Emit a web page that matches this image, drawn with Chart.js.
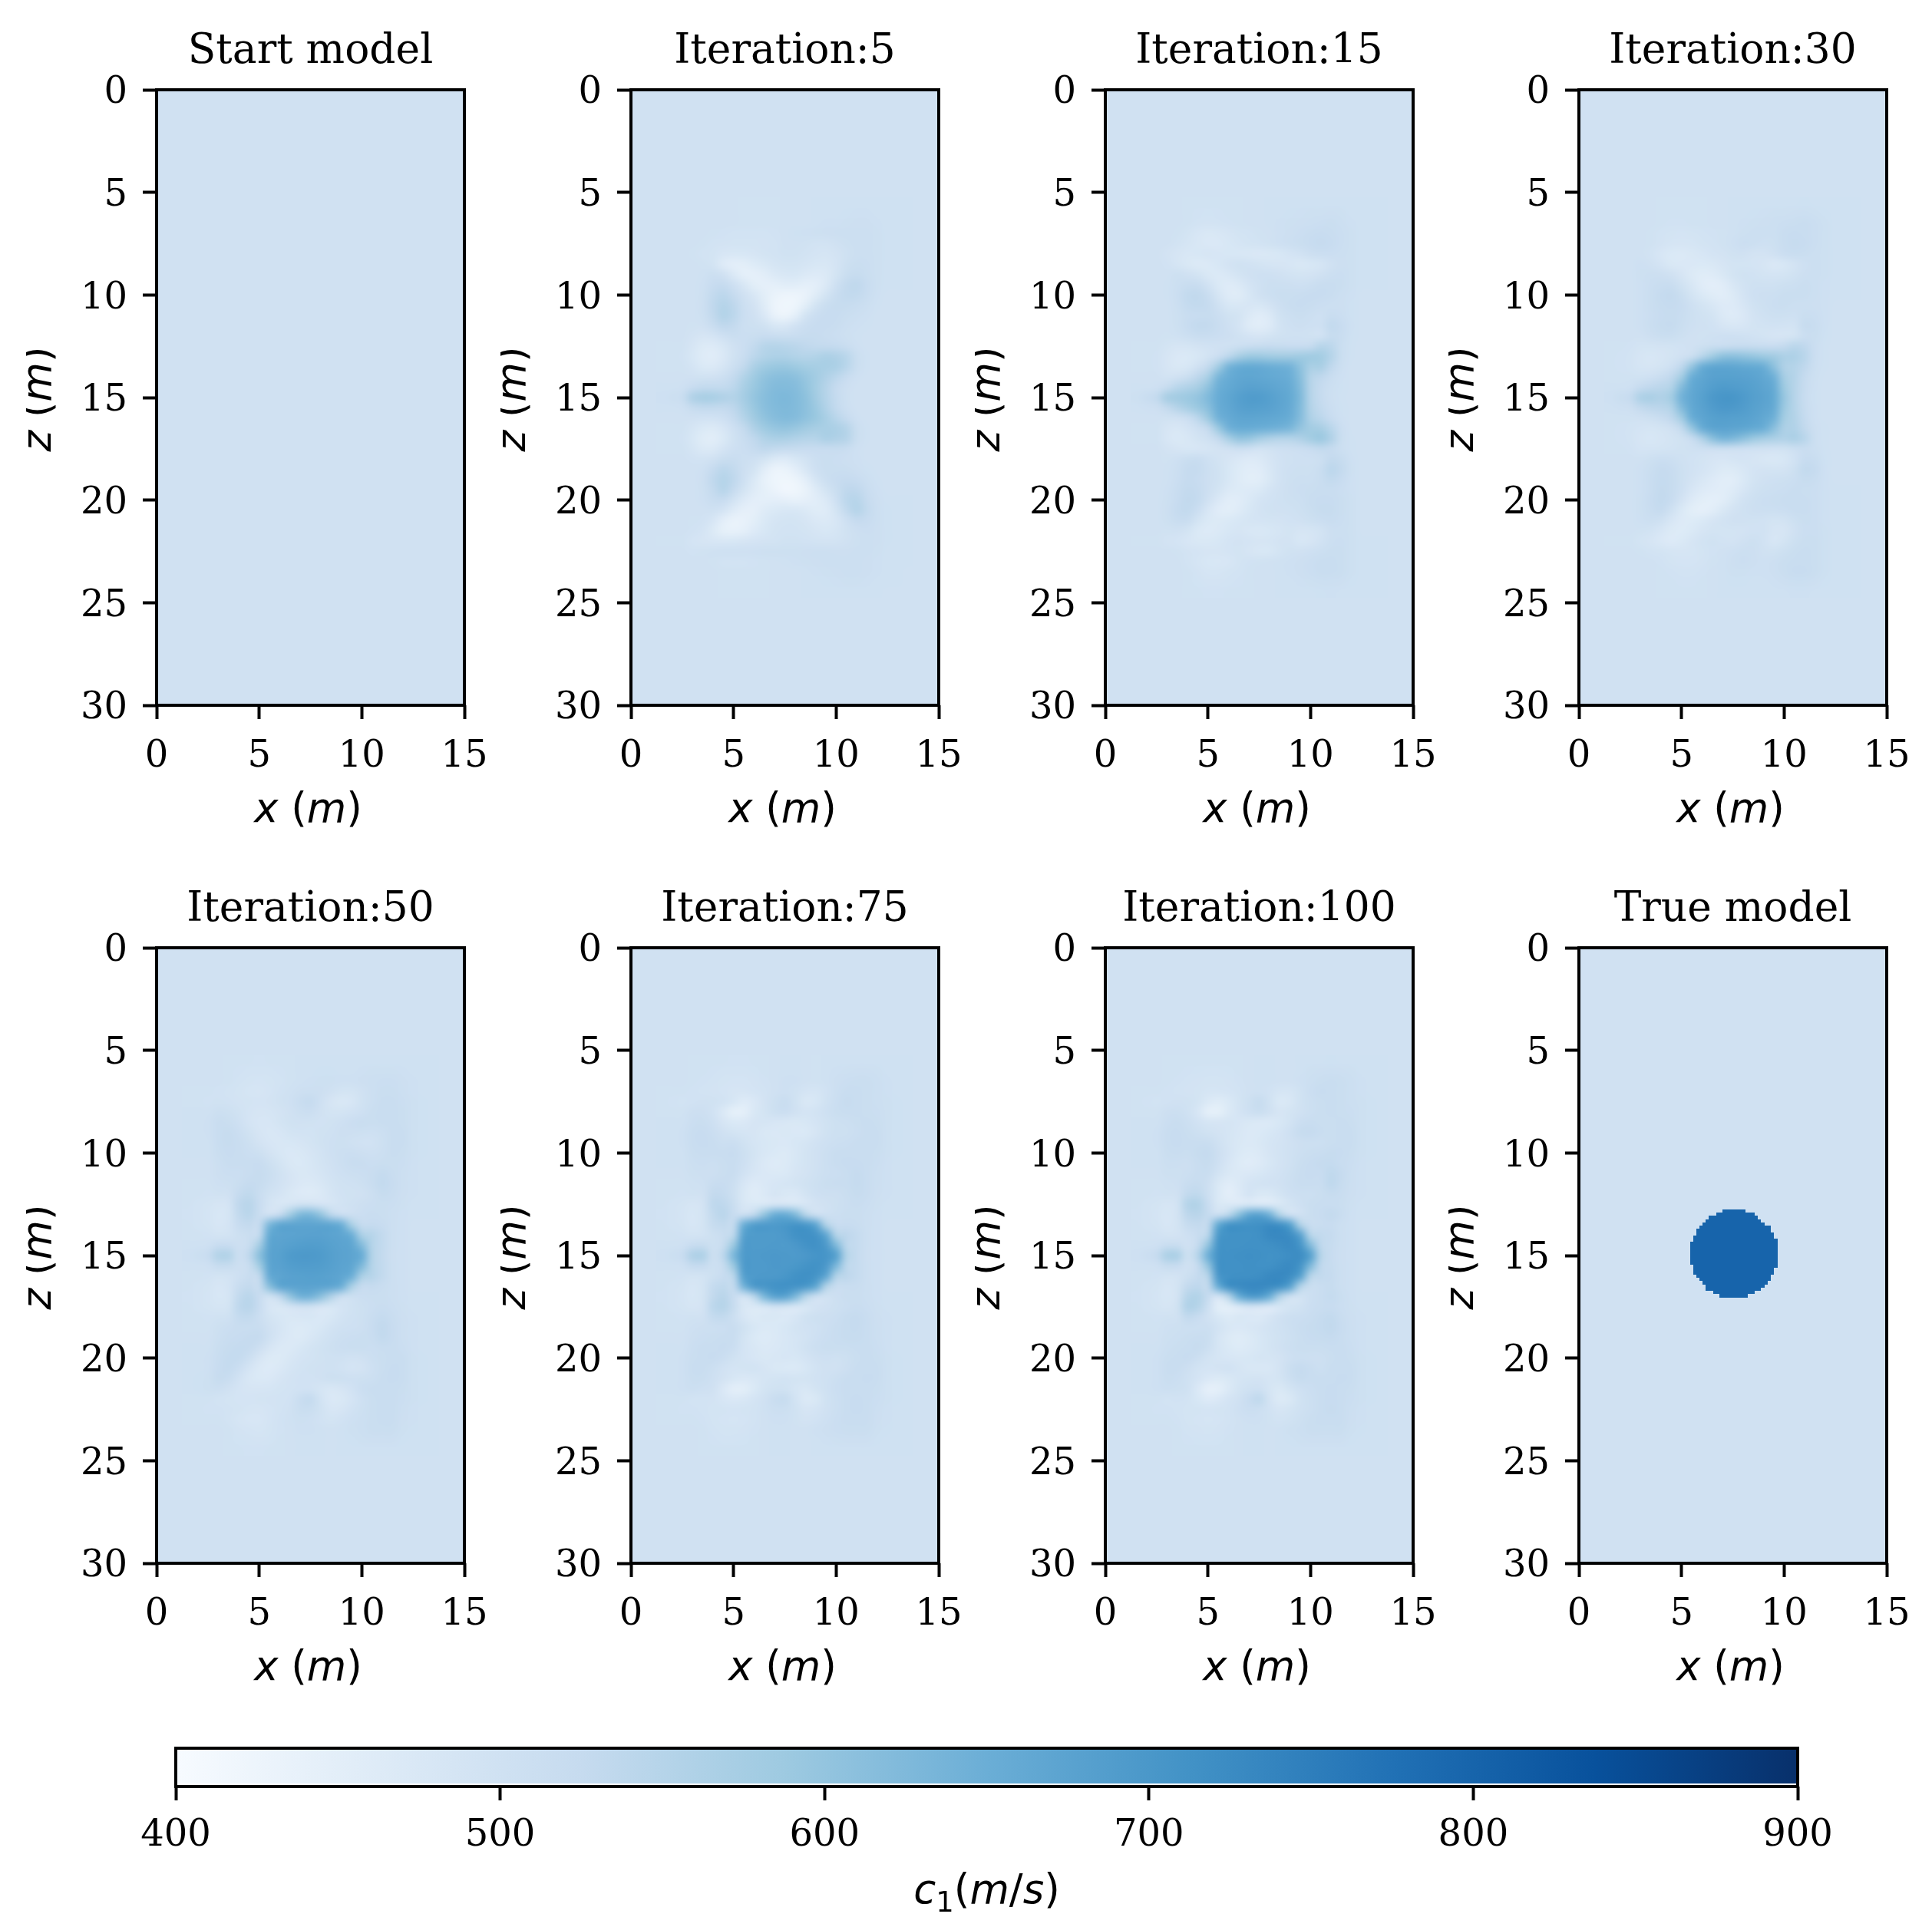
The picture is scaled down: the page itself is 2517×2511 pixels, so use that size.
<!DOCTYPE html>
<html>
<head>
<meta charset="utf-8">
<title>Inversion iterations</title>
<script src="https://cdn.jsdelivr.net/npm/chart.js@4"></script>
<style>
  html, body { margin: 0; padding: 0; background: #fff; overflow: hidden; }
  canvas { position: absolute; }
</style>
</head>
<body>
<script>
const panelTitles = ['Start model', 'Iteration:5', 'Iteration:15', 'Iteration:30', 'Iteration:50', 'Iteration:75', 'Iteration:100', 'True model'];
const xTicks = [0, 5, 10, 15];
const zTicks = [0, 5, 10, 15, 20, 25, 30];
const colorbarTicks = [400, 500, 600, 700, 800, 900];
const colorbarLimits = [400, 900];
const backgroundValue = 500;
const inclusionValue = 800;

// Blues colormap, evenly spaced over the colorbar range
const bluesStops = ['#f7fbff', '#deebf7', '#c6dbef', '#9ecae1', '#6baed6', '#4292c6', '#2171b5', '#08519c', '#08306b'];

// cell centres (m) of the read-off window, everything outside it sits at backgroundValue
const gridXs = [2.5, 3, 3.5, 4, 4.5, 5, 5.5, 6, 6.5, 7, 7.5, 8, 8.5, 9, 9.5, 10, 10.5, 11, 11.5, 12, 12.5];
const gridZs = [6.5, 7, 7.5, 8, 8.5, 9, 9.5, 10, 10.5, 11, 11.5, 12, 12.5, 13, 13.5, 14, 14.5, 15, 15.5, 16, 16.5, 17, 17.5, 18, 18.5, 19, 19.5, 20, 20.5, 21, 21.5, 22, 22.5, 23, 23.5];

const iter5Rows = [
  [500,500,500,500,500,500,498,498,498,498,500,500,500,502,504,505,506,508,508,505,502],
  [500,500,500,498,496,495,495,495,495,497,500,503,505,506,508,510,510,510,510,506,502],
  [500,500,498,494,492,490,490,490,492,495,500,500,498,495,495,500,506,510,510,506,502],
  [500,498,494,490,482,478,480,484,490,494,498,498,494,488,486,492,502,510,510,506,502],
  [500,500,498,490,462,450,452,464,476,486,490,490,486,480,478,488,506,514,512,506,502],
  [500,500,502,510,500,470,448,446,456,470,478,480,470,466,470,490,514,522,514,506,502],
  [500,500,504,520,524,505,478,452,446,448,456,456,448,450,470,505,528,535,520,506,502],
  [500,500,506,530,540,525,500,478,452,436,428,428,436,460,490,518,530,530,518,504,500],
  [500,500,508,535,552,538,510,492,460,428,420,424,452,490,515,522,522,518,510,502,500],
  [500,500,506,532,555,540,512,500,474,438,428,448,490,512,520,520,515,510,505,500,500],
  [500,498,500,518,535,528,510,506,498,480,478,496,512,520,520,516,510,505,502,500,500],
  [500,492,484,488,505,515,512,515,520,518,515,518,522,522,518,512,506,502,500,500,500],
  [498,484,468,465,480,500,512,530,548,552,548,542,535,530,528,526,516,504,500,500,500],
  [496,480,462,458,474,498,518,540,556,562,562,556,552,556,565,560,545,515,502,500,500],
  [498,488,472,470,486,510,532,565,584,592,594,588,578,574,570,565,545,515,502,500,500],
  [500,500,498,500,510,528,556,585,604,612,614,610,596,580,560,540,520,504,500,500,500],
  [505,520,530,530,530,540,568,592,610,620,622,618,602,578,550,525,508,500,500,500,500],
  [518,560,572,570,560,555,575,598,615,624,628,622,608,582,552,526,506,500,500,500,500],
  [505,522,530,530,528,538,566,592,612,622,626,622,610,590,558,530,510,500,500,500,500],
  [500,500,496,496,505,525,552,582,604,616,622,618,606,592,570,545,525,504,500,500,500],
  [498,486,472,468,482,505,528,560,584,596,600,594,582,572,570,565,550,515,502,500,500],
  [496,480,460,456,472,498,516,535,556,566,566,558,552,552,565,560,550,515,502,500,500],
  [498,486,470,470,488,505,512,525,535,530,525,522,520,520,520,522,516,504,500,500,500],
  [500,496,494,500,515,518,510,505,490,470,465,480,495,510,515,512,508,504,500,500,500],
  [500,500,504,525,540,530,508,490,455,430,432,450,478,505,515,515,514,508,503,500,500],
  [500,500,508,535,552,536,505,472,440,424,420,428,450,485,510,520,525,520,510,502,500],
  [500,500,506,528,548,525,490,462,444,430,418,420,436,462,490,515,535,535,518,505,500],
  [500,500,504,516,520,495,465,450,448,450,445,440,445,456,470,505,540,548,525,508,502],
  [500,500,500,502,488,462,445,446,462,472,478,478,470,460,462,490,530,552,530,510,503],
  [500,498,496,482,450,436,438,452,472,486,490,490,484,474,470,482,505,525,520,510,503],
  [500,496,488,468,444,440,448,465,480,490,495,495,490,484,480,486,498,508,512,508,503],
  [498,488,484,482,478,480,484,488,492,495,498,498,496,494,492,494,500,506,510,508,503],
  [500,496,498,502,504,504,504,504,506,506,506,506,508,510,510,508,508,510,510,506,502],
  [500,500,500,498,494,494,494,496,498,500,502,504,506,508,510,510,510,510,508,505,502],
  [500,500,500,500,498,498,498,498,498,500,500,500,502,504,506,508,510,510,508,504,501]
];

const iter15Rows = [
  [500,500,500,498,494,492,494,496,498,500,500,502,504,506,508,510,512,514,510,505,502],
  [500,500,498,490,482,476,478,484,490,494,498,500,504,508,512,516,520,518,512,506,502],
  [500,500,494,486,478,474,474,480,486,490,494,498,504,510,514,520,524,520,512,506,502],
  [500,492,484,478,480,484,482,480,478,476,474,476,480,488,496,508,512,512,510,506,502],
  [500,496,486,476,468,470,480,492,498,496,490,486,484,482,476,480,486,500,508,506,502],
  [500,500,506,500,490,476,470,478,490,500,504,504,500,494,490,492,500,510,512,506,502],
  [500,502,510,518,518,496,472,462,470,488,502,510,510,508,505,510,516,518,514,506,502],
  [500,502,512,530,532,516,486,462,460,480,500,510,514,514,516,520,520,516,510,505,500],
  [500,500,510,526,530,525,502,480,478,482,480,492,508,516,520,518,512,510,508,503,500],
  [500,500,506,518,520,522,512,498,490,470,458,470,498,510,514,510,504,516,512,503,500],
  [500,500,506,520,530,528,516,505,488,462,454,466,494,505,508,504,504,530,520,504,500],
  [500,498,502,510,516,516,512,508,498,488,484,490,498,502,502,498,496,522,518,503,500],
  [498,490,484,486,492,496,500,502,510,518,522,524,522,520,520,525,548,540,515,502,500],
  [496,484,474,472,480,494,512,540,572,590,590,585,582,582,585,585,578,552,515,502,500],
  [496,484,476,480,500,528,580,636,655,660,658,652,648,640,606,568,568,535,510,500,500],
  [500,494,500,515,538,570,632,655,666,668,666,662,658,650,615,552,535,518,505,500,500],
  [505,522,545,558,572,605,648,662,672,678,676,672,666,656,620,550,525,510,503,500,500],
  [530,572,582,590,600,624,654,668,682,690,690,682,672,660,625,552,525,508,502,500,500],
  [508,528,550,570,590,612,652,665,678,684,682,678,670,658,622,555,530,512,503,500,500],
  [500,498,500,512,540,586,640,658,668,670,668,666,662,652,618,562,540,520,505,500,500],
  [498,484,478,488,505,528,590,640,654,654,650,646,640,630,600,580,572,545,512,500,500],
  [498,482,472,478,490,502,528,570,600,596,575,560,552,552,560,578,590,560,515,502,500],
  [500,492,484,480,482,486,492,500,510,505,495,498,504,508,512,520,530,525,510,502,500],
  [500,498,504,514,516,504,494,484,474,466,470,484,496,502,505,505,510,528,522,504,500],
  [500,502,510,524,524,510,498,480,464,454,458,478,496,504,506,506,516,540,528,506,500],
  [500,502,512,524,520,508,498,480,462,452,456,476,496,506,510,510,516,530,520,505,500],
  [500,504,516,528,524,508,490,470,464,466,472,488,500,508,512,514,518,518,512,505,500],
  [500,506,520,532,526,500,474,456,458,472,488,496,502,506,510,516,520,520,514,506,500],
  [500,508,524,530,512,482,458,452,462,480,492,498,500,502,506,514,522,522,514,506,500],
  [500,506,518,516,490,472,468,472,480,486,488,490,492,496,500,506,512,516,512,506,500],
  [500,498,500,490,472,466,470,480,484,478,476,480,486,490,484,486,494,508,510,506,500],
  [498,492,488,482,476,476,480,488,492,488,484,486,492,492,480,484,496,510,512,506,502],
  [500,500,498,492,488,484,484,488,490,484,478,480,490,498,500,504,510,514,514,506,502],
  [500,500,500,494,486,480,478,482,490,496,498,500,502,504,508,512,516,518,514,506,502],
  [500,500,500,498,492,486,486,490,494,498,500,500,502,504,508,512,516,518,514,506,502]
];

const iter30Rows = [
  [500,500,500,498,496,496,498,498,500,500,502,504,506,508,510,512,514,516,512,506,502],
  [500,500,498,494,490,488,490,494,496,498,502,506,510,510,510,516,520,518,512,506,502],
  [500,500,498,492,486,484,486,490,494,498,505,512,510,504,506,516,522,520,512,506,502],
  [500,500,494,482,472,470,476,482,488,492,498,500,492,492,500,512,516,514,510,506,502],
  [500,505,500,488,476,474,474,472,476,484,490,490,488,484,474,480,492,505,510,506,502],
  [500,506,510,508,500,484,468,460,462,476,490,498,496,490,488,490,498,508,510,506,502],
  [500,505,512,518,518,498,478,458,450,458,478,494,502,502,502,506,510,514,510,505,502],
  [500,505,514,524,528,514,490,472,460,456,468,488,504,508,510,514,514,514,510,505,502],
  [500,504,514,522,524,520,504,490,478,466,466,482,498,506,512,514,510,510,508,504,500],
  [500,504,512,520,522,516,506,498,490,470,462,474,492,502,506,506,504,514,512,504,500],
  [500,504,514,522,524,514,504,500,496,484,478,482,490,494,496,494,494,522,518,504,500],
  [500,500,508,514,514,506,500,498,502,504,504,502,496,490,484,484,490,512,514,503,500],
  [496,490,490,492,494,496,500,506,514,518,522,524,522,520,520,528,544,535,512,502,500],
  [494,484,480,484,490,500,515,548,585,608,612,606,598,590,582,566,562,545,512,502,500],
  [494,486,484,490,504,536,600,652,668,670,668,664,660,652,610,560,552,535,510,502,500],
  [498,498,505,516,535,580,650,668,678,680,680,678,674,666,645,575,552,525,506,500,500],
  [505,525,535,542,556,620,662,674,686,692,690,686,680,672,656,588,550,522,505,500,500],
  [525,562,568,560,580,640,666,680,696,704,704,694,684,676,660,596,550,520,503,500,500],
  [508,528,538,542,556,620,662,676,690,698,696,690,680,672,656,590,552,522,504,500,500],
  [498,500,506,516,535,580,650,670,680,684,682,680,674,664,644,578,555,526,505,500,500],
  [494,488,486,490,500,530,596,652,672,674,672,668,660,650,612,564,558,532,508,502,500],
  [494,484,480,484,490,498,520,560,610,634,628,610,590,575,566,558,565,545,510,502,500],
  [496,488,488,490,494,498,502,504,508,510,508,504,502,500,496,498,510,518,510,502,500],
  [500,500,506,512,510,502,496,490,484,482,486,488,484,478,476,480,496,520,518,503,500],
  [500,504,514,524,520,506,496,488,478,468,468,478,488,492,490,492,506,530,524,505,500],
  [500,504,516,526,522,506,492,478,466,456,456,472,490,500,504,506,512,522,518,505,500],
  [500,505,518,528,522,504,482,466,458,454,462,482,498,506,510,512,516,514,512,505,502],
  [500,506,520,530,520,492,466,452,448,456,476,496,506,512,514,516,518,516,512,505,502],
  [500,506,518,524,502,472,452,446,456,476,492,502,508,510,510,512,516,516,512,505,502],
  [500,504,510,502,482,466,464,472,484,494,500,500,498,496,490,494,506,514,512,505,502],
  [500,498,494,482,468,464,472,484,490,490,490,492,496,496,484,484,500,512,512,506,502],
  [498,490,484,474,466,472,484,494,498,494,492,500,506,496,482,490,506,514,514,506,502],
  [500,498,494,490,486,484,486,490,496,500,504,510,508,500,498,506,514,516,514,506,502],
  [500,500,500,496,490,488,488,492,498,502,508,512,508,504,508,514,518,518,514,506,502],
  [500,500,500,498,496,494,494,496,500,502,506,506,504,504,508,514,520,520,514,506,502]
];

const iter50Rows = [
  [500,500,498,494,490,488,490,494,498,502,504,506,506,504,504,508,510,512,512,508,504],
  [498,496,494,490,486,484,488,496,502,508,510,508,500,490,490,500,510,514,514,510,505],
  [496,498,496,492,490,488,492,498,504,518,524,504,484,476,482,498,510,516,516,512,506],
  [502,510,506,498,488,484,486,492,500,510,512,500,490,490,496,505,514,518,518,514,506],
  [504,516,514,504,488,482,482,490,498,500,498,496,498,505,512,516,515,516,518,514,506],
  [504,518,522,512,498,484,478,482,490,494,494,498,502,508,508,506,504,510,518,516,506],
  [502,516,522,518,506,492,482,478,480,484,490,498,504,506,502,496,496,506,516,516,506],
  [502,514,520,518,512,506,492,480,474,476,484,494,504,510,512,508,504,510,516,514,506],
  [500,510,516,516,518,520,506,490,476,472,480,490,500,510,516,518,512,514,514,512,505],
  [500,508,512,512,518,522,514,498,484,476,478,486,496,504,510,512,516,526,518,510,504],
  [498,504,506,514,524,522,510,496,484,474,470,478,490,498,502,506,518,530,520,510,504],
  [496,498,500,524,534,516,498,488,476,466,462,470,486,496,498,500,510,522,518,508,504],
  [490,484,488,535,546,520,488,478,486,498,498,488,486,494,502,508,512,514,512,506,502],
  [488,480,486,530,544,516,500,525,580,625,630,600,540,512,508,512,516,515,510,504,502],
  [490,482,488,520,528,525,630,668,672,672,672,672,668,650,570,525,525,520,510,504,500],
  [496,490,494,506,515,530,660,672,674,676,678,678,674,670,650,565,548,530,510,504,500],
  [504,520,520,508,518,575,668,676,682,686,688,686,680,674,668,620,552,530,510,504,500],
  [520,555,556,510,535,610,672,680,692,696,696,692,684,676,672,655,555,528,508,504,500],
  [504,522,522,508,518,578,668,678,686,690,690,688,682,674,668,625,552,530,510,504,500],
  [496,490,494,505,516,532,658,672,678,680,682,680,676,670,650,568,548,530,510,504,500],
  [490,482,488,518,528,522,615,668,674,676,676,674,670,650,570,524,525,518,510,504,500],
  [488,480,486,530,544,520,498,535,600,640,640,610,560,515,506,512,514,514,510,504,502],
  [490,486,490,536,546,520,482,476,488,500,498,484,480,488,498,506,512,516,512,506,502],
  [496,498,502,526,530,512,490,480,476,478,480,474,480,494,502,506,516,526,518,508,504],
  [498,506,512,518,516,518,500,486,472,468,472,480,494,502,504,508,520,532,520,510,504],
  [500,510,518,520,524,524,502,482,470,468,478,490,502,510,512,514,518,530,520,510,504],
  [502,514,522,526,524,508,484,470,470,480,490,498,506,512,514,514,512,518,518,512,505],
  [504,518,526,526,510,484,468,468,478,488,494,498,502,502,496,500,510,514,518,516,506],
  [504,520,526,512,488,470,466,474,486,494,498,500,502,496,488,492,504,514,520,516,506],
  [506,522,518,496,478,472,474,484,492,496,496,500,506,506,504,506,510,518,520,516,506],
  [506,510,500,488,484,484,486,490,494,496,496,486,478,484,496,512,516,518,518,514,506],
  [498,494,490,488,488,490,492,494,496,516,526,494,474,476,488,504,514,518,518,512,506],
  [496,496,494,490,486,484,488,494,500,514,514,498,482,484,496,506,514,518,518,510,505],
  [498,498,494,486,482,482,488,496,502,506,504,496,490,496,504,510,514,516,516,508,504],
  [500,500,498,492,488,486,490,496,500,504,504,502,500,502,506,510,514,514,514,506,503]
];

const iter75Rows = [
  [500,498,496,494,490,488,488,492,496,500,504,504,500,498,502,508,512,514,514,510,505],
  [498,496,494,492,488,484,484,488,494,500,504,498,488,486,496,510,518,516,514,510,505],
  [494,496,500,498,494,480,462,474,492,506,516,498,476,480,498,512,522,518,514,510,506],
  [498,508,508,496,470,444,448,476,490,506,512,500,488,494,504,514,518,516,514,512,506],
  [502,512,514,504,484,472,474,484,486,482,478,476,480,488,498,506,510,514,518,514,506],
  [504,516,520,512,500,490,486,484,476,474,476,474,472,484,498,506,506,512,518,516,506],
  [504,516,520,516,510,512,498,486,480,476,474,480,486,496,504,510,512,516,518,516,506],
  [502,514,518,516,516,520,506,490,478,472,468,478,490,500,510,516,518,518,516,514,506],
  [502,510,512,510,514,518,504,486,470,462,468,480,490,500,510,516,520,520,516,512,505],
  [500,506,508,508,514,518,496,482,474,470,472,484,492,502,510,512,518,524,518,510,504],
  [498,502,504,516,520,510,482,466,474,482,486,490,498,506,514,516,518,526,518,510,504],
  [496,498,500,528,526,506,476,460,470,484,476,474,490,504,508,508,514,522,516,508,504],
  [490,484,492,536,536,514,478,472,476,484,484,480,482,492,500,506,512,516,512,506,502],
  [488,480,490,530,544,520,510,535,600,650,655,625,550,510,504,510,514,514,510,504,502],
  [490,482,490,522,530,530,650,688,694,694,700,708,702,670,560,520,520,518,510,504,500],
  [496,490,494,506,518,540,680,692,692,692,698,712,716,710,668,555,538,526,510,504,500],
  [504,520,522,506,522,592,690,692,692,694,692,698,710,714,696,625,540,526,510,504,500],
  [520,560,562,508,540,630,692,694,696,698,696,694,698,706,706,680,556,526,508,504,500],
  [504,524,524,506,522,592,692,694,694,698,696,700,708,712,698,630,540,526,510,504,500],
  [496,490,494,506,520,545,682,694,696,696,702,712,716,708,670,558,538,526,510,504,500],
  [490,482,490,526,534,530,640,696,704,712,714,710,702,668,560,518,518,518,510,504,500],
  [488,480,490,532,546,520,494,545,630,675,675,630,555,510,498,508,514,514,510,504,502],
  [490,484,492,540,550,522,476,470,480,496,490,478,480,492,500,506,512,516,512,506,502],
  [496,498,500,526,530,510,482,468,476,476,470,482,498,506,508,512,522,524,516,508,504],
  [498,504,508,510,512,516,498,480,470,472,480,490,496,502,510,516,522,524,516,510,504],
  [500,508,512,514,518,518,490,472,464,470,478,486,494,504,512,518,522,522,516,510,504],
  [502,512,516,518,520,512,488,478,470,474,480,486,498,510,514,514,514,516,516,512,505],
  [504,514,518,520,512,498,488,482,476,478,482,480,488,500,504,502,506,514,518,514,506],
  [504,516,518,510,496,488,490,494,484,476,472,470,480,494,500,500,508,516,518,516,506],
  [504,514,514,504,492,480,474,478,486,490,494,490,490,496,502,510,516,518,520,516,506],
  [504,510,504,500,474,450,452,472,490,498,498,486,478,490,502,512,518,518,518,514,506],
  [498,494,494,492,482,474,478,488,500,516,522,494,470,476,498,510,518,520,518,512,506],
  [496,496,494,490,490,488,490,494,502,510,510,498,484,488,500,510,518,520,518,510,505],
  [498,498,496,490,488,486,488,494,500,504,504,498,492,496,504,512,516,518,516,508,504],
  [500,500,498,494,490,490,492,496,500,502,502,500,500,504,508,512,514,514,514,506,503]
];

const iter100Rows = [
  [500,498,496,494,492,490,490,492,496,500,502,502,500,500,504,510,514,516,514,510,505],
  [498,496,494,492,490,486,486,488,494,500,502,496,486,486,498,512,520,518,514,510,505],
  [494,496,500,498,490,470,460,472,490,506,522,498,472,478,498,510,514,516,514,510,506],
  [498,508,510,502,482,448,444,470,488,504,514,500,484,490,500,510,514,516,514,512,506],
  [502,512,516,510,496,486,484,486,482,476,470,470,480,494,512,518,514,514,516,514,506],
  [504,516,520,514,506,498,492,486,478,470,472,480,488,504,522,524,516,514,516,516,506],
  [504,516,520,516,516,516,502,486,476,470,476,486,492,500,508,510,510,514,518,516,506],
  [502,514,516,514,522,526,508,488,472,464,470,484,494,502,510,514,518,522,520,514,506],
  [502,510,510,508,516,522,504,482,464,458,466,480,492,502,514,520,524,526,518,512,505],
  [500,506,506,510,516,516,494,476,470,474,480,488,496,506,516,520,520,534,524,510,504],
  [498,502,504,518,522,508,476,458,470,488,494,496,500,510,516,516,516,536,522,510,504],
  [496,498,500,530,534,510,472,450,466,488,476,476,490,504,510,510,514,522,518,508,504],
  [490,484,494,552,556,520,476,470,470,478,474,470,476,490,504,514,518,518,514,506,502],
  [488,480,492,538,546,526,510,540,610,665,675,640,555,504,500,514,520,528,516,504,502],
  [490,482,490,522,528,532,660,708,712,712,716,724,716,680,560,516,518,520,510,504,500],
  [496,490,492,504,518,545,695,712,712,712,716,730,732,722,676,548,530,524,510,504,500],
  [504,518,518,500,525,600,706,712,712,714,714,716,722,728,706,620,536,522,510,504,500],
  [524,565,566,506,548,645,710,714,716,718,716,712,714,720,722,680,550,520,508,504,500],
  [504,522,520,500,525,600,710,714,714,716,714,714,722,728,708,625,536,522,510,504,500],
  [496,490,492,506,524,550,698,714,716,716,720,730,732,722,680,550,530,524,510,504,500],
  [490,482,490,528,536,532,655,716,726,732,732,726,716,676,558,514,516,522,510,504,500],
  [488,480,492,548,556,524,488,550,650,690,690,650,560,506,494,510,518,526,514,504,502],
  [490,484,498,558,552,510,452,452,470,488,484,474,480,490,498,512,518,520,512,506,502],
  [496,498,500,530,520,500,480,468,476,474,470,484,500,510,512,516,524,530,518,508,504],
  [498,504,506,510,510,510,494,478,474,478,484,494,502,510,518,522,526,532,520,510,504],
  [500,506,510,514,518,514,486,468,460,468,480,490,498,506,514,520,522,524,516,510,504],
  [502,510,514,518,522,510,486,472,464,470,480,490,500,510,514,514,514,516,516,512,505],
  [504,514,518,520,510,494,486,482,478,480,486,486,492,504,510,508,508,514,518,514,506],
  [504,516,518,508,494,488,492,496,486,478,476,478,492,514,524,516,510,516,518,516,506],
  [504,514,512,502,488,474,468,476,486,490,492,486,490,510,522,518,516,518,520,516,506],
  [504,510,506,502,474,446,448,470,490,502,504,486,476,490,504,512,518,520,518,514,506],
  [498,494,496,494,480,466,474,488,500,520,534,492,468,476,498,510,518,520,518,512,506],
  [496,496,494,490,490,488,490,494,504,512,510,496,484,490,502,510,518,522,518,510,505],
  [498,498,496,490,488,486,488,494,500,504,504,498,494,498,506,514,518,518,516,508,504],
  [500,500,498,494,492,490,492,496,500,502,502,500,502,506,510,514,514,514,514,506,503]
];

// true model: stepped outline of the inclusion, one entry per pixel run (m)
const trueZEdges = [12.76, 12.91, 13.06, 13.24, 13.39, 13.54, 13.69, 13.88, 14.03, 14.18, 14.33, 15.45, 15.6, 15.94, 16.09, 16.24, 16.42, 16.57, 16.72, 16.87, 17.06];
const trueLefts = [6.98, 6.68, 6.34, 6.19, 6.04, 5.86, 5.71, 5.71, 5.56, 5.56, 5.41, 5.56, 5.56, 5.71, 5.86, 6.04, 6.19, 6.19, 6.53, 6.83];
const trueRights = [8.1, 8.58, 8.73, 8.88, 9.07, 9.36, 9.36, 9.51, 9.51, 9.7, 9.7, 9.7, 9.51, 9.36, 9.36, 9.21, 9.07, 8.88, 8.58, 8.24];

const panelGrids = [null, iter5Rows, iter15Rows, iter30Rows, iter50Rows, iter75Rows, iter100Rows, null];

const columnLefts = [204, 822, 1440, 2057];
const rowTops = [117, 1235];
const plotWidth = 401, plotHeight = 802;
const marginLeft = 170, marginTop = 100, marginRight = 59, marginBottom = 170;

const serif = "'DejaVu Serif'";
const sans = "'DejaVu Sans'";
const tickSize = 48, titleSize = 53.4, labelSize = 52.8;

// fade of the window edge into the background, one factor per padding cell
const edgeFade = [0.55, 0.2];

function hexToRgb(hex) {
  return [1, 3, 5].map(function(i) { return parseInt(hex.substr(i, 2), 16); });
}

function valueColor(v) {
  let t = (v - colorbarLimits[0]) / (colorbarLimits[1] - colorbarLimits[0]) * (bluesStops.length - 1);
  t = Math.max(0, Math.min(bluesStops.length - 1.0001, t));
  let i = Math.floor(t), f = t - i;
  let a = hexToRgb(bluesStops[i]), b = hexToRgb(bluesStops[i + 1]);
  return a.map(function(c, k) { return Math.round(c + (b[k] - c) * f); });
}

function cssColor(v) {
  return 'rgb(' + valueColor(v).join(',') + ')';
}

function gridPoints(rows) {
  let pts = [];
  if (!rows) return pts;
  rows.forEach(function(row, j) {
    row.forEach(function(v, i) {
      pts.push({ x: gridXs[i], y: gridZs[j], v: v });
    });
  });
  return pts;
}

function truePoints() {
  return trueLefts.map(function(left, i) {
    return { x: left, x2: trueRights[i], y: trueZEdges[i], y2: trueZEdges[i + 1], v: inclusionValue };
  });
}

// mixed upright / italic label, mathtext style
function drawMath(ctx, parts, cx, cy, rotate) {
  ctx.save();
  ctx.translate(cx, cy);
  if (rotate) ctx.rotate(-Math.PI / 2);
  ctx.textBaseline = 'alphabetic';
  ctx.textAlign = 'left';
  ctx.fillStyle = '#000';
  let fontFor = function(p) {
    return (p.italic ? 'italic ' : '') + (p.sub ? labelSize * 0.7 : labelSize) + 'px ' + sans;
  };
  let total = 0;
  parts.forEach(function(p) { ctx.font = fontFor(p); total += ctx.measureText(p.text).width; });
  let x = -total / 2;
  parts.forEach(function(p) {
    ctx.font = fontFor(p);
    ctx.fillText(p.text, x, labelSize * 0.36 + (p.sub ? labelSize * 0.2 : 0));
    x += ctx.measureText(p.text).width;
  });
  ctx.restore();
}

const xLabelParts = [{ text: 'x', italic: true }, { text: ' (' }, { text: 'm', italic: true }, { text: ')' }];
const zLabelParts = [{ text: 'z', italic: true }, { text: ' (' }, { text: 'm', italic: true }, { text: ')' }];
const colorbarLabelParts = [{ text: 'c', italic: true }, { text: '1', sub: true }, { text: '(' }, { text: 'm', italic: true }, { text: '/' }, { text: 's', italic: true }, { text: ')' }];

const heatmapPlugin = {
  id: 'heatmap',
  beforeDatasetsDraw: function(chart) {
    let ctx = chart.ctx, a = chart.chartArea, xs = chart.scales.x, ys = chart.scales.y;
    ctx.save();
    ctx.fillStyle = cssColor(backgroundValue);
    ctx.fillRect(a.left, a.top, a.width, a.height);

    let pts = chart.data.datasets[0].data;
    if (chart.data.datasets[0].smooth && pts.length) {
      let pad = edgeFade.length, cols = gridXs.length, rows = gridZs.length;
      let off = document.createElement('canvas');
      off.width = cols + pad * 2;
      off.height = rows + pad * 2;
      let octx = off.getContext('2d');
      let img = octx.createImageData(off.width, off.height);
      for (let j = 0; j < off.height; j++) {
        for (let i = 0; i < off.width; i++) {
          let ci = Math.max(0, Math.min(cols - 1, i - pad));
          let cj = Math.max(0, Math.min(rows - 1, j - pad));
          let out = Math.max(Math.abs(i - pad - ci), Math.abs(j - pad - cj));
          let v = pts[cj * cols + ci].v;
          if (out > 0) v = backgroundValue + (v - backgroundValue) * edgeFade[out - 1];
          let c = valueColor(v), n = (j * off.width + i) * 4;
          img.data[n] = c[0];
          img.data[n + 1] = c[1];
          img.data[n + 2] = c[2];
          img.data[n + 3] = 255;
        }
      }
      octx.putImageData(img, 0, 0);
      let half = (gridXs[1] - gridXs[0]) / 2, extra = half + pad * half * 2;
      let left = xs.getPixelForValue(gridXs[0] - extra);
      let right = xs.getPixelForValue(gridXs[cols - 1] + extra);
      let top = ys.getPixelForValue(gridZs[0] - extra);
      let bottom = ys.getPixelForValue(gridZs[rows - 1] + extra);
      ctx.imageSmoothingEnabled = true;
      ctx.imageSmoothingQuality = 'high';
      ctx.drawImage(off, left, top, right - left, bottom - top);
    } else {
      pts.forEach(function(p) {
        ctx.fillStyle = cssColor(p.v);
        let l = Math.round(xs.getPixelForValue(p.x)), t = Math.round(ys.getPixelForValue(p.y));
        ctx.fillRect(l, t, Math.round(xs.getPixelForValue(p.x2)) - l, Math.round(ys.getPixelForValue(p.y2)) - t);
      });
    }
    ctx.restore();
  },
  afterDraw: function(chart) {
    let ctx = chart.ctx, a = chart.chartArea;
    ctx.save();
    ctx.strokeStyle = '#000';
    ctx.lineWidth = 4;
    ctx.strokeRect(a.left, a.top, a.width, a.height);
    ctx.restore();
    drawMath(ctx, xLabelParts, a.left + a.width / 2 - 3, a.bottom + 133);
    drawMath(ctx, zLabelParts, a.left - 157, a.top + a.height / 2 + 2, true);
  }
};

function tickOptions() {
  return {
    color: '#000',
    font: { family: serif, size: tickSize },
    maxRotation: 0,
    autoSkip: false
  };
}

function gridOptions() {
  return { drawOnChartArea: false, drawTicks: true, tickLength: 18, tickWidth: 4, tickColor: '#000' };
}

function makeCanvas(left, top, width, height) {
  let canvas = document.createElement('canvas');
  canvas.width = width;
  canvas.height = height;
  canvas.style.left = left + 'px';
  canvas.style.top = top + 'px';
  canvas.style.width = width + 'px';
  canvas.style.height = height + 'px';
  document.body.appendChild(canvas);
  return canvas;
}

function addPanel(index) {
  let left = columnLefts[index % 4], top = rowTops[index < 4 ? 0 : 1];
  let canvas = makeCanvas(left - marginLeft, top - marginTop, marginLeft + plotWidth + marginRight, marginTop + plotHeight + marginBottom);
  let grid = panelGrids[index];
  let data = index === 7 ? truePoints() : gridPoints(grid);

  new Chart(canvas, {
    type: 'scatter',
    data: { datasets: [{ data: data, smooth: !!grid, pointRadius: 0, showLine: false }] },
    options: {
      responsive: false,
      animation: false,
      devicePixelRatio: 1,
      layout: { padding: { right: marginRight } },
      plugins: {
        legend: { display: false },
        tooltip: { enabled: false },
        title: {
          display: true,
          text: panelTitles[index],
          fullSize: false,
          color: '#000',
          font: { family: serif, size: titleSize, weight: 'normal', lineHeight: 1 },
          padding: { top: 24, bottom: marginTop - titleSize - 24 }
        }
      },
      scales: {
        x: {
          type: 'linear', min: 0, max: 15,
          grid: gridOptions(),
          border: { display: false },
          ticks: Object.assign(tickOptions(), { padding: 21 }),
          afterBuildTicks: function(scale) { scale.ticks = xTicks.map(function(v) { return { value: v }; }); },
          afterFit: function(scale) {
            scale.height = marginBottom;
            scale.paddingLeft = scale.paddingRight = 0;
          }
        },
        y: {
          type: 'linear', min: 0, max: 30, reverse: true,
          grid: gridOptions(),
          border: { display: false },
          ticks: Object.assign(tickOptions(), { padding: 20, labelOffset: 5 }),
          afterBuildTicks: function(scale) { scale.ticks = zTicks.map(function(v) { return { value: v }; }); },
          afterFit: function(scale) {
            scale.width = marginLeft;
            scale.paddingTop = scale.paddingBottom = 0;
          }
        }
      }
    },
    plugins: [heatmapPlugin]
  });
}

const colorbarPlugin = {
  id: 'colorbar',
  beforeDatasetsDraw: function(chart) {
    let ctx = chart.ctx, a = chart.chartArea, xs = chart.scales.x;
    let x0 = xs.getPixelForValue(colorbarLimits[0]), x1 = xs.getPixelForValue(colorbarLimits[1]);
    let gradient = ctx.createLinearGradient(x0, 0, x1, 0);
    bluesStops.forEach(function(c, i) { gradient.addColorStop(i / (bluesStops.length - 1), c); });
    ctx.save();
    ctx.fillStyle = gradient;
    ctx.fillRect(a.left, a.top, a.width, a.height - 4);
    ctx.restore();
  },
  afterDraw: function(chart) {
    let ctx = chart.ctx, a = chart.chartArea;
    ctx.save();
    ctx.strokeStyle = '#000';
    ctx.lineWidth = 4;
    ctx.strokeRect(a.left, a.top, a.width, a.height);
    ctx.restore();
    drawMath(ctx, colorbarLabelParts, a.left + a.width / 2, a.bottom + 133);
  }
};

function addColorbar() {
  let canvas = makeCanvas(109, 2268, 2338, 243);
  new Chart(canvas, {
    type: 'scatter',
    data: { datasets: [{ data: [], pointRadius: 0 }] },
    options: {
      responsive: false,
      animation: false,
      devicePixelRatio: 1,
      layout: { padding: { left: 120, right: 105, top: 10 } },
      plugins: { legend: { display: false }, tooltip: { enabled: false } },
      scales: {
        x: {
          type: 'linear', min: colorbarLimits[0], max: colorbarLimits[1],
          grid: gridOptions(),
          border: { display: false },
          ticks: Object.assign(tickOptions(), { padding: 18 }),
          afterBuildTicks: function(scale) { scale.ticks = colorbarTicks.map(function(v) { return { value: v }; }); },
          afterFit: function(scale) {
            scale.height = 183;
            scale.paddingLeft = scale.paddingRight = 0;
          }
        },
        y: { display: false, min: 0, max: 1 }
      }
    },
    plugins: [colorbarPlugin]
  });
}

panelTitles.forEach(function(title, i) { addPanel(i); });
addColorbar();
</script>
</body>
</html>
